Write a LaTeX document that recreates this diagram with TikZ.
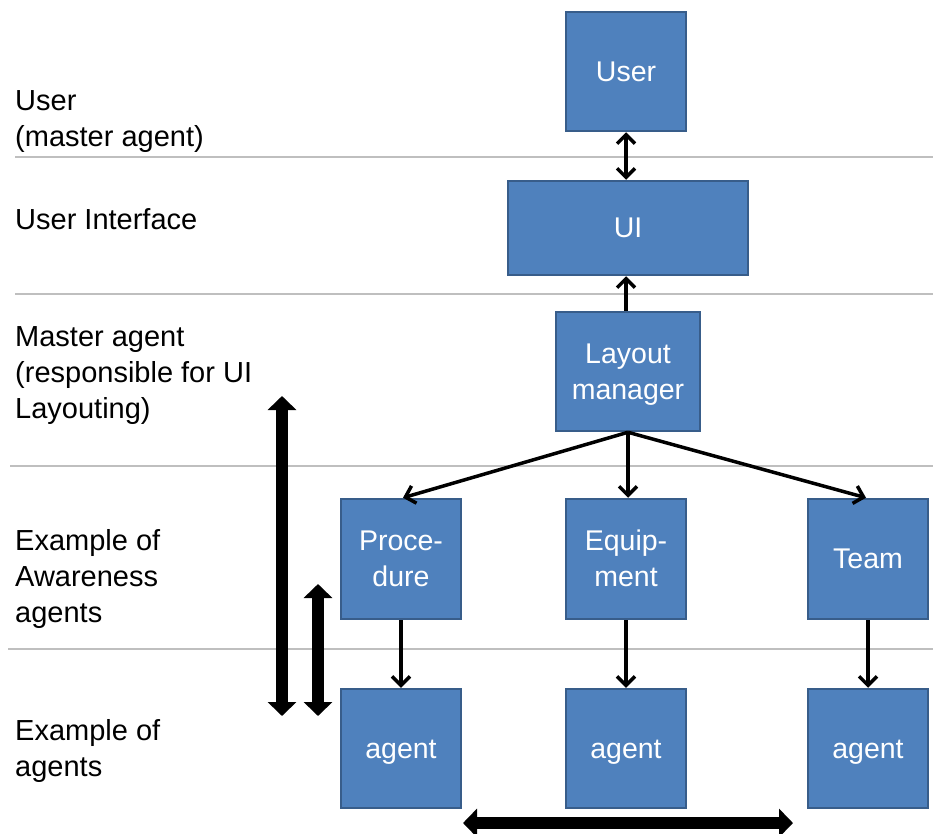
\documentclass[tikz,border=0pt]{standalone}
\usepackage{fontspec}
\setmainfont{Liberation Sans}
\usetikzlibrary{arrows.meta}
\definecolor{boxfill}{HTML}{4F81BD}
\definecolor{boxedge}{HTML}{385D8A}
\definecolor{rule}{HTML}{BFBFBF}
% full ascent/descent strut so box labels are centred on their line boxes
\newcommand\boxstrut{\vrule width 0pt height 0.905em depth 0.212em\relax}
\begin{document}
\begin{tikzpicture}[x=1pt,y=-1pt,
  agentbox/.style={draw=boxedge,line width=2.5pt,fill=boxfill,text=white,
    font=\fontsize{28.5}{36}\selectfont,align=center,inner sep=0pt},
  layerlabel/.style={anchor=base west,inner sep=0pt,align=left,
    font=\fontsize{29}{36}\selectfont},
  layerrule/.style={draw=rule,line width=1.2pt},
  link/.style={line width=3.5pt,-{Straight Barb[length=9pt,width=18pt]}},
  bilink/.style={line width=3.5pt,{Straight Barb[length=9pt,width=18pt]}-{Straight Barb[length=9pt,width=18pt]}},
  bigspan/.style={line width=12pt,{Triangle[length=14pt,width=28pt]}-{Triangle[length=14pt,width=28pt]}}]
\useasboundingbox (0,0) rectangle (933,833);

% layer separators
\draw[layerrule] (15,157) -- (933,157);
\draw[layerrule] (15,294) -- (933,294);
\draw[layerrule] (10,466) -- (933,466);
\draw[layerrule] (8,649) -- (933,649);

% layer labels (anchored at the baseline of their last line)
\node[layerlabel] (lUser) at (15,146) {User\\(master agent)};
\node[layerlabel] (lUI) at (15,229) {User Interface};
\node[layerlabel] (lMaster) at (15,418) {Master agent\\(responsible for UI\\Layouting)};
\node[layerlabel] (lAware) at (15,622) {Example of\\Awareness\\agents};
\node[layerlabel] (lAgents) at (15,776) {Example of\\agents};

% boxes
\node[agentbox,minimum width=120pt,minimum height=119pt] (user) at (626,71.5) {\boxstrut User};
\node[agentbox,minimum width=240pt,minimum height=94pt] (ui) at (628,228) {\boxstrut UI};
\node[agentbox,minimum width=144pt,minimum height=119pt] (lm) at (628,371.5) {\boxstrut Layout\\\boxstrut manager};
\node[agentbox,minimum width=120pt,minimum height=120pt] (proc) at (401,559) {\boxstrut Proce-\\\boxstrut dure};
\node[agentbox,minimum width=120pt,minimum height=120pt] (equip) at (626,559) {\boxstrut Equip-\\\boxstrut ment};
\node[agentbox,minimum width=120pt,minimum height=120pt] (team) at (868,559) {\boxstrut Team};
\node[agentbox,minimum width=120pt,minimum height=119pt] (a1) at (401,748.5) {\boxstrut agent};
\node[agentbox,minimum width=120pt,minimum height=119pt] (a2) at (626,748.5) {\boxstrut agent};
\node[agentbox,minimum width=120pt,minimum height=119pt] (a3) at (868,748.5) {\boxstrut agent};

% connectors
\draw[bilink] (user.south) -- (ui.north -| user.south);
\draw[link] (lm.north -| user.south) -- (ui.south -| user.south);
\draw[link] (lm.south) -- ([xshift=2pt]proc.north);
\draw[link] (lm.south) -- (lm.south |- equip.north);
\draw[link] (lm.south) -- ([xshift=-2pt]team.north);
\draw[link] (proc.south) -- (a1.north);
\draw[link] (equip.south) -- (a2.north);
\draw[link] (team.south) -- (a3.north);

% scope arrows
\coordinate (longTop) at (282,396);
\coordinate (longBot) at (282,716);
\coordinate (shortTop) at (318,584);
\coordinate (shortBot) at (318,716);
\coordinate (spanL) at (463,823);
\coordinate (spanR) at (793,823);
\draw[bigspan] (longTop) -- (longBot);
\draw[bigspan] (shortTop) -- (shortBot);
\draw[bigspan] (spanL) -- (spanR);
\end{tikzpicture}
\end{document}
